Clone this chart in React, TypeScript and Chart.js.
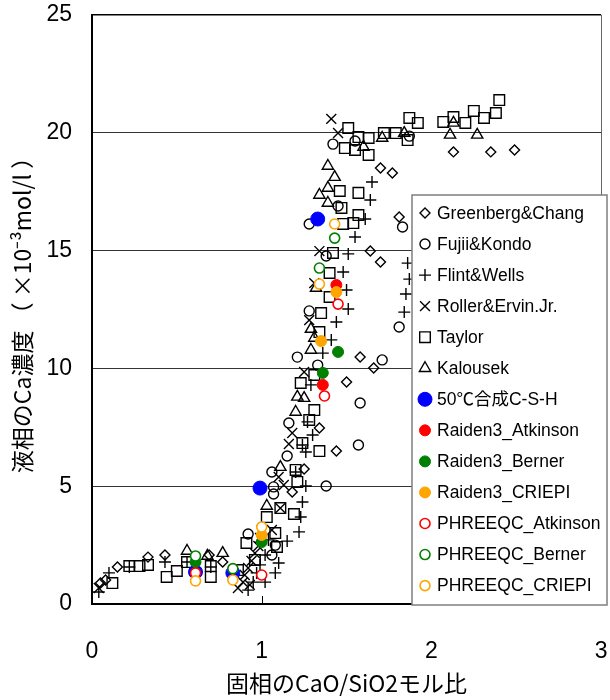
import React, { useEffect, useRef } from "react";
import { Chart, registerables } from "chart.js";
import { drawPoint } from "chart.js/helpers";

Chart.register(...registerables);

// ---- axis ranges / ticks ----
const xRange = [0, 3];
const yRange = [0, 25];
const xStep = 1;
const yStep = 5;

// ---- series data: [CaO/SiO2, Ca (x10^-3 mol/l)] ----
const greenbergChang = [
  [0.05, 0.89], [0.08, 1.02], [0.15, 1.57], [0.33, 1.99], [0.43, 2.08], [0.69, 2.08], [0.77, 1.78],
  [1.18, 4.75], [1.25, 5.73], [1.34, 7.47], [1.44, 6.49], [1.5, 9.42], [1.58, 10.48], [1.66, 10.02],
  [1.64, 14.98], [1.7, 14.52], [1.81, 16.43], [1.7, 18.51], [1.77, 18.29], [2.13, 19.19], [2.35, 19.19], [2.49, 19.27],
];
const fujiiKondo = [
  [1.42, 19.52], [1.55, 19.65], [1.87, 19.86], [1.45, 16.89], [1.28, 16.13], [1.38, 14.77], [1.83, 16.0],
  [1.81, 11.76], [1.28, 12.44], [1.21, 10.48], [1.33, 10.14], [1.71, 10.36], [1.58, 8.53], [1.57, 6.75],
  [1.16, 7.68], [1.15, 6.28], [1.06, 5.6], [1.07, 4.97], [1.38, 5.01], [1.07, 4.67], [0.92, 2.97], [1.06, 2.08], [1.08, 2.5],
];
const flintWells = [
  [0.04, 0.51], [0.1, 1.32], [0.22, 1.57], [0.43, 1.78], [0.56, 1.78], [0.7, 1.57], [0.92, 0.59], [0.95, 0.93],
  [0.97, 1.32], [0.99, 1.66], [1.02, 2.08], [1.04, 2.72], [1.02, 0.93], [1.08, 1.32], [1.1, 1.74], [1.15, 2.67],
  [1.22, 3.06], [1.23, 3.69], [1.24, 4.33], [1.26, 5.01], [1.2, 5.6], [1.26, 6.45], [1.24, 6.75], [1.3, 7.17],
  [1.27, 7.73], [1.29, 9.3], [1.36, 10.65], [1.41, 11.21], [1.44, 11.97], [1.51, 12.52], [1.5, 13.33], [1.48, 14.09],
  [1.51, 14.86], [1.55, 15.58], [1.61, 16.34], [1.64, 17.15], [1.65, 17.91], [1.86, 14.47], [1.87, 13.79], [1.85, 13.16], [1.84, 12.39],
];
const rollerErvin = [
  [0.04, 0.68], [0.86, 0.68], [0.89, 0.93], [0.9, 1.23], [0.92, 1.53], [0.94, 1.83], [0.96, 2.16], [0.98, 2.46],
  [0.99, 2.8], [1.0, 3.14], [0.93, 0.81], [1.06, 3.14], [1.1, 5.39], [1.11, 4.07], [1.13, 5.05], [1.16, 6.79],
  [1.18, 7.26], [1.25, 9.85], [1.28, 12.05], [1.31, 13.62], [1.34, 14.98], [1.41, 20.59], [1.45, 19.99],
];
const taylor = [
  [0.12, 0.89], [0.22, 1.61], [0.28, 1.61], [0.33, 1.66], [0.44, 1.15], [0.5, 1.4], [0.56, 1.78], [0.7, 1.15],
  [0.7, 1.61], [0.86, 1.44], [0.91, 2.59], [0.96, 1.87], [1.08, 3.01], [1.09, 2.42], [1.03, 3.69], [1.11, 4.07],
  [1.19, 3.82], [1.2, 5.69], [1.21, 5.18], [1.24, 6.83], [1.34, 6.49], [1.23, 9.38], [1.31, 9.72], [1.28, 7.81],
  [1.31, 8.23], [1.35, 12.35], [1.34, 11.54], [1.4, 13.03], [1.4, 14.05], [1.42, 14.9], [1.46, 17.53], [1.57, 17.45],
  [1.47, 16.81], [1.57, 16.51], [1.54, 16.17], [1.48, 16.13], [1.51, 20.2], [1.49, 19.35], [1.55, 19.27], [1.57, 19.82],
  [1.63, 19.78], [1.63, 19.06], [1.72, 19.99], [1.79, 19.99], [1.86, 19.69], [1.87, 20.63], [1.92, 20.42], [2.07, 20.46],
  [2.13, 20.67], [2.2, 20.42], [2.25, 20.93], [2.31, 20.63], [2.38, 20.84], [2.4, 21.39],
];
const kalousek = [
  [0.56, 2.25], [0.68, 2.04], [0.77, 2.16], [1.03, 4.16], [1.11, 5.81], [1.2, 8.15], [1.21, 8.79], [1.25, 8.74],
  [1.29, 10.78], [1.31, 11.29], [1.29, 11.67], [1.32, 13.41], [1.34, 17.36], [1.39, 17.02], [1.39, 17.66], [1.43, 18.12],
  [1.39, 18.59], [1.6, 19.4], [1.71, 19.78], [1.84, 19.99], [2.13, 20.42], [2.11, 19.91], [2.27, 19.91],
];
const csh50 = [[0.61, 1.36], [0.83, 1.32], [0.99, 4.92], [1.33, 16.34]];
const raidenAtkinson = [[1.44, 13.54], [1.36, 9.3]];
const raidenBerner = [[1.45, 10.7], [1.36, 9.81], [1.0, 2.63], [0.61, 1.78]];
const raidenCriepi = [[1.44, 13.24], [1.35, 11.16], [1.0, 2.93]];
const phreeqcAtkinson = [[1.45, 12.73], [1.37, 8.83], [1.0, 1.23], [0.61, 1.32]];
const phreeqcBerner = [[1.43, 15.53], [1.34, 14.26], [0.61, 2.04], [0.83, 1.5]];
const phreeqcCriepi = [[1.43, 16.13], [1.34, 13.58], [1.0, 3.27], [0.61, 0.98], [0.83, 1.02]];

const seriesLabels = [
  "Greenberg&Chang", "Fujii&Kondo", "Flint&Wells", "Roller&Ervin.Jr.", "Taylor", "Kalousek",
  "50℃合成C-S-H", "Raiden3_Atkinson", "Raiden3_Berner", "Raiden3_CRIEPI",
  "PHREEQC_Atkinson", "PHREEQC_Berner", "PHREEQC_CRIEPI",
];

const xTitle = "固相のCaO/SiO2モル比";
const yTitle = "液相のCa濃度 （ ×10⁻³mol/l ）";

const NUM_FONT = '"Liberation Sans Narrow", "Liberation Sans", Arial, sans-serif';
const JP_FONT = '"Noto Sans CJK JP", "Liberation Sans", sans-serif';
const LEG_FONT = '"Liberation Sans", "Noto Sans CJK JP", sans-serif';

const toPts = (arr: number[][]) => arr.map(([x, y]) => ({ x, y }));

const blackStyle = (style: string, radius: number) => ({
  pointStyle: style,
  pointRadius: radius,
  pointBorderColor: "#000",
  pointBackgroundColor: "rgba(0,0,0,0)",
  borderColor: "#000",
  backgroundColor: "rgba(0,0,0,0)",
  pointBorderWidth: 1.4,
  borderWidth: 1.4,
});
const filledStyle = (color: string, radius: number) => ({
  pointStyle: "circle",
  pointRadius: radius,
  pointBorderColor: color,
  pointBackgroundColor: color,
  borderColor: color,
  backgroundColor: color,
  pointBorderWidth: 1,
  borderWidth: 1,
});
const openStyle = (color: string, radius: number) => ({
  pointStyle: "circle",
  pointRadius: radius,
  pointBorderColor: color,
  pointBackgroundColor: "#fff",
  borderColor: color,
  backgroundColor: "#fff",
  pointBorderWidth: 1.6,
  borderWidth: 1.6,
});

const seriesData = [
  greenbergChang, fujiiKondo, flintWells, rollerErvin, taylor, kalousek,
  csh50, raidenAtkinson, raidenBerner, raidenCriepi, phreeqcAtkinson, phreeqcBerner, phreeqcCriepi,
];
const seriesStyles = [
  blackStyle("rectRot", 5),
  blackStyle("circle", 5),
  blackStyle("cross", 6),
  blackStyle("crossRot", 7),
  blackStyle("rect", 7.5),
  blackStyle("triangle", 6.5),
  filledStyle("#0000ff", 7),
  filledStyle("#ff0000", 5.5),
  filledStyle("#008000", 5.5),
  filledStyle("#ffa500", 5.5),
  openStyle("#ff0000", 5),
  openStyle("#008000", 5),
  openStyle("#ffa500", 5),
];

const innerTicks = {
  id: "innerTicks",
  beforeDatasetsDraw(chart: any) {
    const xs = chart.scales.x;
    const { bottom } = chart.chartArea;
    const ctx = chart.ctx;
    ctx.save();
    ctx.strokeStyle = "#000";
    ctx.lineWidth = 1;
    ctx.beginPath();
    xs.ticks.forEach((t: any) => {
      if (t.value > xs.min && t.value < xs.max) {
        const px = Math.round(xs.getPixelForValue(t.value)) + 0.5;
        ctx.moveTo(px, bottom);
        ctx.lineTo(px, bottom - 8);
      }
    });
    ctx.stroke();
    ctx.restore();
  },
};

const boxLegend = {
  id: "boxLegend",
  afterDraw(chart: any) {
    const ctx = chart.ctx;
    const left = 412, top = 195, w = 195, h = 410, rowH = 31.05, first = 18;
    ctx.save();
    ctx.fillStyle = "#fff";
    ctx.fillRect(left, top, w, h);
    ctx.strokeStyle = "#7f7f7f";
    ctx.lineWidth = 1.5;
    ctx.strokeRect(left, top, w, h);
    chart.data.datasets.forEach((ds: any, i: number) => {
      const cy = top + first + i * rowH;
      ctx.strokeStyle = ds.pointBorderColor;
      ctx.fillStyle = ds.pointBackgroundColor;
      ctx.lineWidth = ds.pointBorderWidth;
      drawPoint(ctx, { pointStyle: ds.pointStyle, radius: ds.pointRadius, rotation: 0, borderWidth: ds.pointBorderWidth } as any, 425, cy);
      ctx.fillStyle = "#000";
      ctx.font = `17.5px ${LEG_FONT}`;
      ctx.textBaseline = "middle";
      ctx.textAlign = "left";
      ctx.fillText(ds.label, 437, cy + 1);
    });
    ctx.restore();
  },
};

export default function App() {
  const ref = useRef<HTMLCanvasElement | null>(null);
  useEffect(() => {
    document.body.style.margin = "0";
    const canvas = ref.current;
    if (!canvas) return;
    const datasets = seriesData.map((d, i) => ({
      label: seriesLabels[i],
      data: toPts(d),
      showLine: false,
      order: 100 - i,
      ...seriesStyles[i],
    }));
    const chart = new Chart(canvas, {
      type: "scatter",
      data: { datasets: datasets as any },
      plugins: [innerTicks, boxLegend],
      options: {
        animation: false,
        responsive: false,
        devicePixelRatio: 1,
        layout: { padding: { top: 15, right: 7, left: 0, bottom: 0 } },
        plugins: { legend: { display: false }, tooltip: { enabled: false } },
        scales: {
          x: {
            type: "linear",
            min: xRange[0],
            max: xRange[1],
            ticks: { stepSize: xStep, color: "#000", padding: 34, font: { family: NUM_FONT, size: 23 } },
            grid: {
              drawTicks: false,
              color: (c: any) => (c.tick && c.tick.value === xRange[1] ? "#666" : "rgba(0,0,0,0)"),
              lineWidth: 1,
            },
            border: { display: true, color: "#000", width: 2 },
            title: { display: true, text: xTitle, color: "#000", padding: 3, font: { family: JP_FONT, size: 23 } },
            afterFit: (s: any) => {
              s.height = 96;
              s.paddingLeft = 0;
              s.paddingRight = 0;
            },
          },
          y: {
            type: "linear",
            min: yRange[0],
            max: yRange[1],
            ticks: { stepSize: yStep, color: "#000", padding: 20, font: { family: NUM_FONT, size: 23 } },
            grid: {
              drawTicks: false,
              color: (c: any) => {
                const v = c.tick ? c.tick.value : 0;
                if (v === yRange[0]) return "rgba(0,0,0,0)";
                if (v === yRange[1]) return "#000";
                return "#333";
              },
              lineWidth: (c: any) => (c.tick && c.tick.value === yRange[1] ? 1.5 : 1),
            },
            border: { display: true, color: "#000", width: 2 },
            title: { display: true, text: yTitle, color: "#000", padding: 8, font: { family: JP_FONT, size: 23 } },
            afterFit: (s: any) => {
              s.width = 92;
              s.paddingTop = 0;
              s.paddingBottom = 0;
            },
          },
        },
      },
    });
    return () => chart.destroy();
  }, []);
  return (
    <div style={{ width: 610, height: 700 }}>
      <canvas ref={ref} width={610} height={700} style={{ display: "block" }} />
    </div>
  );
}
